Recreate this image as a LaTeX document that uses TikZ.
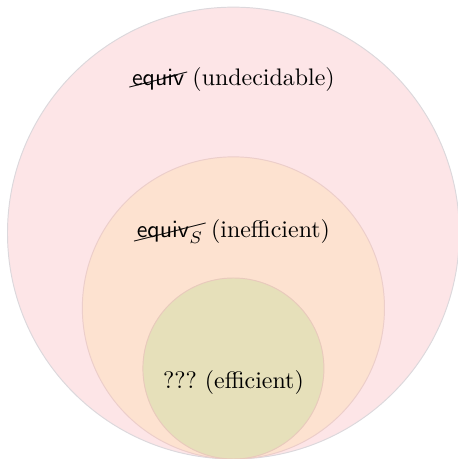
\documentclass[tikz,border=0pt]{standalone}
\usepackage{cancel}
\definecolor{undecfill}{RGB}{253,229,231}
\definecolor{ineffill}{RGB}{253,226,208}
\definecolor{efffill}{RGB}{230,224,186}
\definecolor{undecline}{RGB}{220,216,220}
\definecolor{ineffline}{RGB}{236,206,202}
\definecolor{effline}{RGB}{232,202,188}
\tikzset{
	setcircle/.style={line width=0.4pt},
	setlabel/.style={inner sep=1pt}
}
\begin{document}
\begin{tikzpicture}[x=1cm,y=1cm]
		\useasboundingbox (0,0) rectangle (6.73,6.745);
		\coordinate (U) at (3.43,3.32);
		\coordinate (I) at (3.43,2.22);
		\coordinate (E) at (3.43,1.33);
		\draw[setcircle,draw=undecline,fill=undecfill] (U) circle (3.32);
		\draw[setcircle,draw=ineffline,fill=ineffill] (I) circle (2.22);
		\draw[setcircle,draw=effline,fill=efffill] (E) circle (1.33);
		\node[setlabel] (undec) at (3.43,5.57) {$\cancel{\mathsf{equiv}}$ (undecidable)};
		\node[setlabel] (ineff) at (3.43,3.34) {$\cancel{\mathsf{equiv}_S}$ (inefficient)};
		\node[setlabel] (eff) at (3.43,1.13) {???\ (efficient)};
	\end{tikzpicture}
\end{document}
